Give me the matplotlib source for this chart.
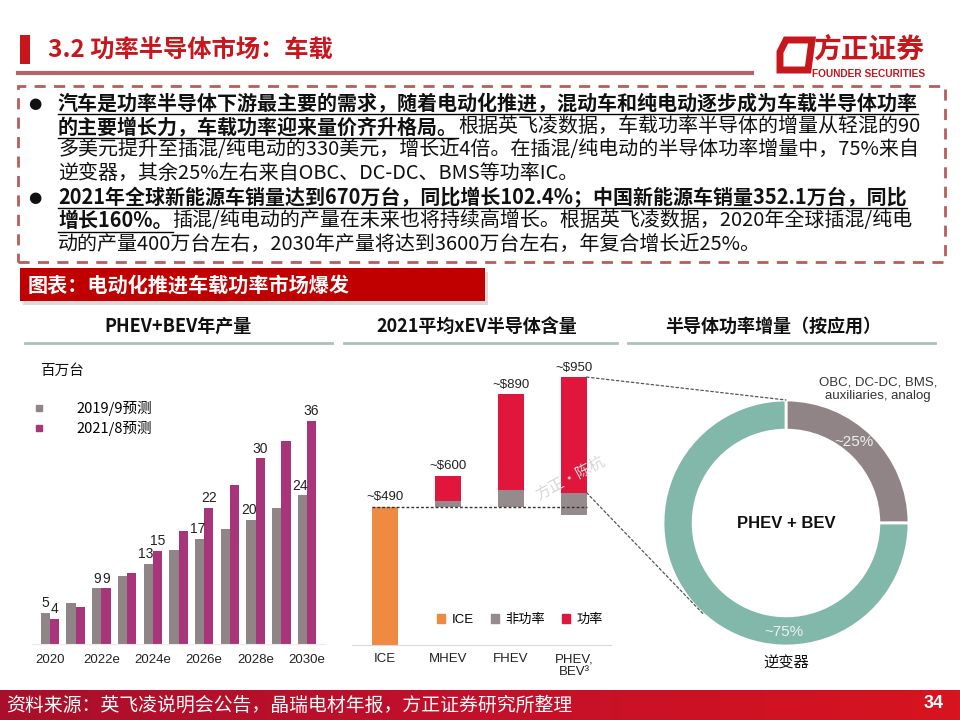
import numpy as np
import matplotlib
matplotlib.use('Agg')
import matplotlib.pyplot as plt
from matplotlib.patches import Rectangle, Polygon, ConnectionPatch, Patch
from matplotlib.lines import Line2D
from matplotlib.colors import LinearSegmentedColormap

CJK = ['Noto Sans CJK SC', 'DejaVu Sans']
LAT = ['Liberation Sans', 'Noto Sans CJK SC', 'DejaVu Sans']
plt.rcParams['font.family'] = CJK

# ---------------- data ----------------
prod_years = ['2020', '2021', '2022e', '2023e', '2024e', '2025e', '2026e', '2027e', '2028e', '2029e', '2030e']
prod_tick_labels = ['2020', '', '2022e', '', '2024e', '', '2026e', '', '2028e', '', '2030e']
forecast_2019 = [5, 6.6, 9, 11, 13, 15.2, 17, 18.5, 20, 22, 24]
forecast_2021 = [4, 6, 9, 11.4, 15, 18.3, 22, 25.7, 30, 32.8, 36]
labels_2019 = ['5', '', '9', '', '13', '', '17', '', '20', '', '24']
labels_2021 = ['4', '', '9', '', '15', '', '22', '', '30', '', '36']
series_names = ['2019/9预测', '2021/8预测']
prod_unit = '百万台'

xev_categories = ['ICE', 'MHEV', 'FHEV', 'PHEV,\nBEV³']
ice_content = [490, 0, 0, 0]
nonpower_low = [0, 490, 490, 460]
nonpower_high = [0, 510, 550, 540]
xev_totals = [490, 600, 890, 950]
xev_total_labels = ['~$490', '~$600', '~$890', '~$950']
xev_legend = ['ICE', '非功率', '功率']

donut_shares = [25, 75]
donut_pct_labels = ['~25%', '~75%']
donut_names = ['OBC, DC-DC, BMS,\nauxiliaries, analog', '逆变器']
donut_center = 'PHEV + BEV'

# ---------------- figure ----------------
W, H = 960, 720
fig = plt.figure(figsize=(9.6, 7.2), dpi=100)
fig.patch.set_facecolor('white')
renderer = fig.canvas.get_renderer()


def fx(x):
    return x / W


def fy(y):
    return 1 - y / H


def hline(x0, x1, y, **kw):
    fig.add_artist(Line2D([fx(x0), fx(x1)], [fy(y), fy(y)], transform=fig.transFigure, **kw))


# header
fig.add_artist(Rectangle((fx(20), fy(64)), fx(10), 29 / H, transform=fig.transFigure,
                         color='#c8161d', lw=0))
fig.text(fx(48), fy(51), '3.2 功率半导体市场：车载', fontsize=17.5, fontweight='bold',
         color='#c8161d', va='center', ha='left', family=CJK)
hline(18, 752, 73, color='#b06666', lw=3)

# logo
logo = Polygon([(fx(786), fy(40)), (fx(812), fy(40)), (fx(808), fy(70)), (fx(780), fy(70)), (fx(780), fy(52))],
               closed=True, fill=False, edgecolor='#c8161d', lw=5, transform=fig.transFigure, joinstyle='miter')
fig.add_artist(logo)
fig.text(fx(869), fy(51), '方正证券', fontsize=20, fontweight='bold', color='#c8161d',
         ha='center', va='center', family=CJK)
fig.text(fx(869), fy(74), 'FOUNDER SECURITIES', fontsize=7.3, fontweight='bold', color='#c8161d',
         ha='center', va='center', family=LAT)

# dashed box
box = Rectangle((fx(18), fy(262)), fx(945 - 18), (262 - 86) / H, transform=fig.transFigure,
                fill=False, edgecolor='#b85c5c', lw=2, linestyle=(0, (4, 3)))
fig.add_artist(box)

FS = 14.4


def runs(x, y, parts):
    for text, bold in parts:
        t = fig.text(fx(x), fy(y), text, fontsize=FS, fontweight='bold' if bold else 'normal',
                     va='center', ha='left', family=CJK, color='#111111')
        bb = t.get_window_extent(renderer)
        if bold:
            hline(x, x + bb.width, y + 11, color='black', lw=1.0)
        x += bb.width


lines = [
    [('汽车是功率半导体下游最主要的需求，随着电动化推进，混动车和纯电动逐步成为车载半导体功率', True)],
    [('的主要增长力，车载功率迎来量价齐升格局。', True), ('根据英飞凌数据，车载功率半导体的增量从轻混的90', False)],
    [('多美元提升至插混/纯电动的330美元，增长近4倍。在插混/纯电动的半导体功率增量中，75%来自', False)],
    [('逆变器，其余25%左右来自OBC、DC-DC、BMS等功率IC。', False)],
    [('2021年全球新能源车销量达到670万台，同比增长102.4%；中国新能源车销量352.1万台，同比', True)],
    [('增长160%。', True), ('插混/纯电动的产量在未来也将持续高增长。根据英飞凌数据，2020年全球插混/纯电', False)],
    [('动的产量400万台左右，2030年产量将达到3600万台左右，年复合增长近25%。', False)],
]
ys = [103, 126.5, 150, 173.5, 197, 220.5, 244]
for yy, parts in zip(ys, lines):
    runs(58, yy, parts)
for yy in (ys[0], ys[4]):
    fig.text(fx(35), fy(yy), '●', fontsize=11, ha='center', va='center', color='#111111', family=['DejaVu Sans'])

# chart banner
fig.add_artist(Rectangle((fx(23), fy(305)), fx(465), 33 / H, transform=fig.transFigure,
                         color='#999999', alpha=0.35, lw=0))
fig.add_artist(Rectangle((fx(20), fy(301)), fx(465), 33 / H, transform=fig.transFigure,
                         color='#c00000', lw=0))
fig.text(fx(28), fy(285), '图表：电动化推进车载功率市场爆发', fontsize=14.5, fontweight='bold',
         color='white', ha='left', va='center', family=CJK)

# panel titles
for cx, x0, x1, title in [(178, 25, 332, 'PHEV+BEV年产量'),
                          (477, 344, 617, '2021平均xEV半导体含量'),
                          (773, 628, 935, '半导体功率增量（按应用）')]:
    fig.text(fx(cx), fy(326), title, fontsize=13, fontweight='bold', ha='center', va='center',
             family=CJK, color='#111111')
    hline(x0, x1, 343, color='#a9c2ba', lw=2)

# ---------------- left chart ----------------
px_per_unit = 6.19
ax1 = fig.add_axes([fx(32), fy(644), fx(325 - 32), 40 * px_per_unit / H])
x = np.arange(len(prod_years))
c_gray = '#8f8587'
c_mag = '#a8347a'
ax1.bar(x - 0.18, forecast_2019, 0.36, color=c_gray, lw=0)
ax1.bar(x + 0.18, forecast_2021, 0.36, color=c_mag, lw=0)
for i in range(len(x)):
    if labels_2019[i]:
        off = -1.5 if len(labels_2019[i]) > 1 else 0
        ax1.annotate(labels_2019[i], (x[i] - 0.18, forecast_2019[i]), xytext=(off, 2),
                     textcoords='offset points', ha='center', va='bottom', fontsize=10, family=LAT, color='#222')
    if labels_2021[i]:
        ax1.annotate(labels_2021[i], (x[i] + 0.18, forecast_2021[i]), xytext=(0, 2),
                     textcoords='offset points', ha='center', va='bottom', fontsize=10, family=LAT, color='#222')
ax1.set_xlim(-0.7, 10.7)
ax1.set_ylim(0, 40)
ax1.set_xticks(x)
ax1.set_xticklabels(prod_tick_labels, fontsize=9.5, family=LAT, color='#222')
ax1.tick_params(axis='x', length=0, pad=7)
ax1.set_yticks([])
for s in ['top', 'right', 'left']:
    ax1.spines[s].set_visible(False)
ax1.spines['bottom'].set_color('#f3e6ec')
ax1.patch.set_alpha(0)
fig.text(fx(40), fy(371), prod_unit, fontsize=10.5, ha='left', va='center', family=CJK, color='#111')
handles = [Line2D([], [], marker='s', ls='', color=c, markersize=5) for c in (c_gray, c_mag)]
ax1.legend(handles, series_names, loc='upper left', bbox_to_anchor=(fx(27), fy(395)),
           bbox_transform=fig.transFigure, frameon=False, handlelength=0.8,
           handletextpad=2.2, labelspacing=0.35, borderaxespad=0, prop={'family': CJK, 'size': 10.5})

# ---------------- middle chart ----------------
sp = 63
ax2 = fig.add_axes([fx(385 - 0.52 * sp), fy(645), fx(4.1 * sp), 0.282 * 1000 / H])
xc = np.arange(len(xev_categories))
c_orange = '#ef8a43'
c_np = '#958b8d'
c_pw = '#e0163c'
np_h = [h - l for h, l in zip(nonpower_high, nonpower_low)]
pw_h = [t - h if h > 0 else 0 for t, h in zip(xev_totals, nonpower_high)]
ax2.bar(xc, ice_content, 0.4, color=c_orange, lw=0, zorder=2)
ax2.bar(xc, np_h, 0.4, bottom=nonpower_low, color=c_np, lw=0, zorder=2)
ax2.bar(xc, pw_h, 0.4, bottom=nonpower_high, color=c_pw, lw=0, zorder=2)
ax2.plot([xc[0] - 0.2, xc[-1] + 0.2], [ice_content[0]] * 2, ls=(0, (2, 1.5)), color='#333333', lw=1, zorder=3)
for i, (t, lab) in enumerate(zip(xev_totals, xev_total_labels)):
    ax2.text(xc[i], t + 12, lab, ha='center', va='bottom', fontsize=9.5, family=LAT, color='#222')
ax2.set_xlim(-0.52, 3.58)
ax2.set_ylim(0, 1000)
ax2.set_xticks(xc)
ax2.set_xticklabels(xev_categories, fontsize=9.5, family=LAT, color='#222', linespacing=1.1)
ax2.tick_params(axis='x', length=0, pad=6)
ax2.set_yticks([])
for s in ['top', 'right', 'left']:
    ax2.spines[s].set_visible(False)
ax2.spines['bottom'].set_color('#d9d9d9')
ax2.patch.set_alpha(0)
leg_h = [Patch(color=c) for c in (c_orange, c_np, c_pw)]
ax2.legend(leg_h, xev_legend, loc='center', bbox_to_anchor=(fx(520), fy(620)),
           bbox_transform=fig.transFigure, ncol=3, frameon=False, handlelength=0.6, handleheight=0.6,
           handletextpad=0.5, columnspacing=1.3, borderaxespad=0, prop={'family': LAT, 'size': 9.5})
fig.text(fx(570), fy(478), '方正·陈杭', fontsize=11, rotation=28, color='#d6d6d6',
         ha='center', va='center', family=CJK)

# ---------------- donut ----------------
R = 123
half = 130
ax3 = fig.add_axes([fx(786 - half), fy(523 + half), 2 * half / W, 2 * half / H])
c_dg = '#918487'
c_teal = '#82b8a9'
ax3.pie(donut_shares, colors=[c_dg, c_teal], startangle=90, counterclock=False, radius=1,
        wedgeprops=dict(width=0.245, edgecolor='white', linewidth=2))
lim = half / R
ax3.set_xlim(-lim, lim)
ax3.set_ylim(-lim, lim)
ax3.set_aspect('equal')
ax3.axis('off')
ax3.text(0, 0, donut_center, fontsize=12, fontweight='bold', ha='center', va='center', family=LAT, color='#111')
for lab, ang, r in [(donut_pct_labels[0], 50, 0.86), (donut_pct_labels[1], 269, 0.89)]:
    a = np.deg2rad(ang)
    ax3.text(r * np.cos(a), r * np.sin(a), lab, fontsize=11, ha='center', va='center',
             color='#eef0ee', family=LAT)
ax3.text(0.75, 1.09, donut_names[0], fontsize=9.5, ha='center', va='center', family=LAT,
         color='#333', linespacing=1.15)
ax3.text(0, -1.14, donut_names[1], fontsize=11, ha='center', va='center', family=CJK, color='#111')

# connectors
for yA, ang in [(xev_totals[3], 90), (nonpower_high[3], 228)]:
    a = np.deg2rad(ang)
    cp = ConnectionPatch(xyA=(xc[3] + 0.2, yA), coordsA=ax2.transData,
                         xyB=(np.cos(a), np.sin(a)), coordsB=ax3.transData,
                         color='#555555', lw=0.9, linestyle=(0, (2, 2)))
    fig.add_artist(cp)

# ---------------- footer ----------------
axf = fig.add_axes([0, 0, 1, 30 / H])
cmap = LinearSegmentedColormap.from_list('f', ['#a90f2b', '#c4102a', '#d8141f'])
axf.imshow(np.linspace(0, 1, 256)[None, :], aspect='auto', cmap=cmap, extent=[0, 1, 0, 1])
axf.axis('off')
fig.text(fx(6), fy(705), '资料来源：英飞凌说明会公告，晶瑞电材年报，方正证券研究所整理', fontsize=13.6,
         color='white', ha='left', va='center', family=CJK)
fig.text(fx(944), fy(704), '34', fontsize=13, fontweight='bold', color='white', ha='right', va='center', family=LAT)

fig.savefig('out.png', dpi=100)
